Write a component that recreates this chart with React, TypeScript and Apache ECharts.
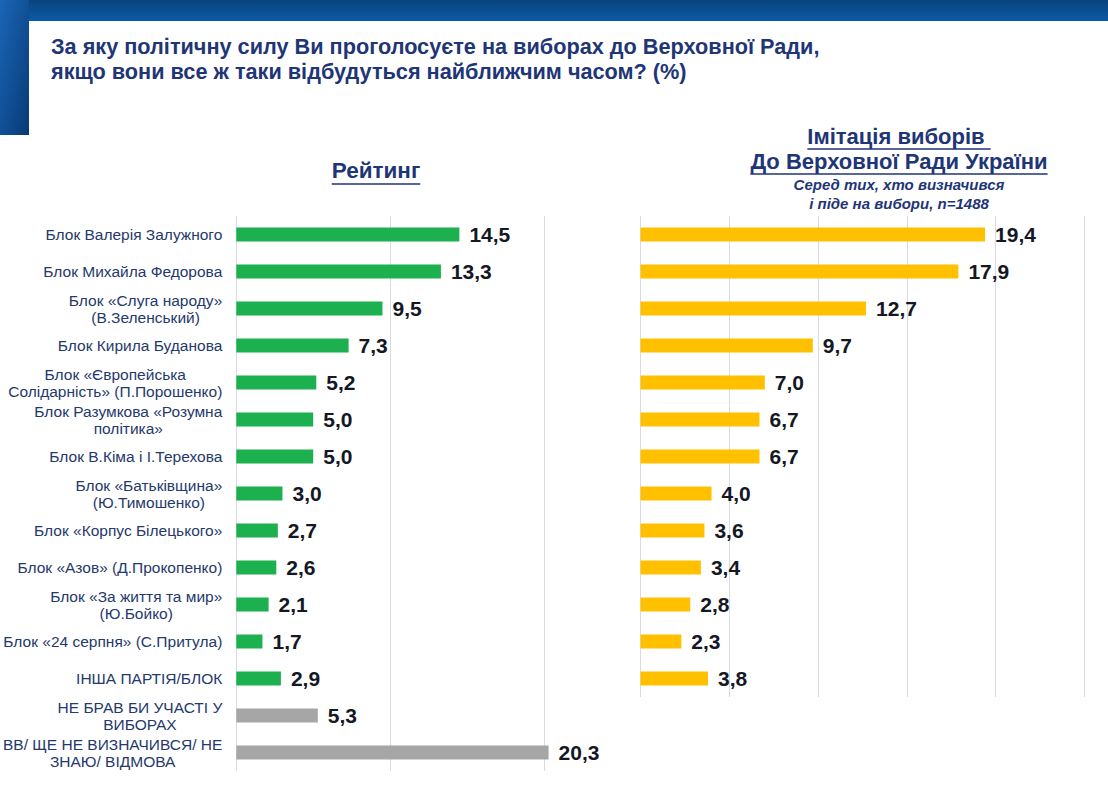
import React, { useEffect, useRef } from "react";
import * as echarts from "echarts";

// --- data ---
const categories = [
  "Блок Валерія Залужного",
  "Блок Михайла Федорова",
  "Блок «Слуга народу»\n(В.Зеленський)",
  "Блок Кирила Буданова",
  "Блок «Європейська\nСолідарність» (П.Порошенко)",
  "Блок Разумкова «Розумна\nполітика»",
  "Блок В.Кіма і І.Терехова",
  "Блок «Батьківщина»\n(Ю.Тимошенко)",
  "Блок «Корпус Білецького»",
  "Блок «Азов» (Д.Прокопенко)",
  "Блок «За життя та мир»\n(Ю.Бойко)",
  "Блок «24 серпня» (С.Притула)",
  "ІНША ПАРТІЯ/БЛОК",
  "НЕ БРАВ БИ УЧАСТІ У\nВИБОРАХ",
  "ВВ/ ЩЕ НЕ ВИЗНАЧИВСЯ/ НЕ\nЗНАЮ/ ВІДМОВА",
];
const ratingValues = [14.5, 13.3, 9.5, 7.3, 5.2, 5.0, 5.0, 3.0, 2.7, 2.6, 2.1, 1.7, 2.9, 5.3, 20.3];
const ratingKinds = [
  "party", "party", "party", "party", "party", "party", "party",
  "party", "party", "party", "party", "party", "party", "other", "other",
];
const simulationCategories = categories.slice(0, 13);
const simulationValues = [19.4, 17.9, 12.7, 9.7, 7.0, 6.7, 6.7, 4.0, 3.6, 3.4, 2.8, 2.3, 3.8];

const titleLines = [
  "За яку політичну силу Ви проголосуєте на виборах до Верховної Ради,",
  "якщо вони все ж таки відбудуться найближчим часом? (%)",
];
const leftHeading = "Рейтинг";
const rightHeading = ["Імітація виборів ", "До Верховної Ради України"];
const rightNote = ["Серед тих, хто визначився", "і піде на вибори, n=1488"];

const FONT = "Arial, 'Liberation Sans', sans-serif";
const NAVY = "#1f3676";
const LABEL = "#25396b";
const VALUE = "#141824";
const GREEN = "#1db04e";
const GRAY = "#a6a6a6";
const YELLOW = "#ffc000";
const GRID = "#d9dbe4";

const fmt = (v: number) => v.toFixed(1).replace(".", ",");

function textWidth(text: string, font: string) {
  const ctx = document.createElement("canvas").getContext("2d");
  if (!ctx) return text.length * 10;
  ctx.font = font;
  return ctx.measureText(text).width;
}

// underlined, centred heading line
function underlined(text: string, cx: number, baseline: number, size: number) {
  const w = textWidth(text, `bold ${size}px ${FONT}`);
  return [
    {
      type: "text",
      x: cx,
      y: baseline,
      style: {
        text,
        fontSize: size,
        fontWeight: "bold",
        fontFamily: FONT,
        fill: NAVY,
        align: "center",
        verticalAlign: "bottom",
      },
    },
    {
      type: "line",
      shape: { x1: cx - w / 2, y1: baseline + 2, x2: cx + w / 2, y2: baseline + 2 },
      style: { stroke: NAVY, lineWidth: 1.6 },
    },
  ];
}

const App: React.FC = () => {
  const chartRef = useRef<HTMLDivElement>(null);

  useEffect(() => {
    document.body.style.margin = "0";
    if (!chartRef.current) return;
    const chart = echarts.init(chartRef.current, undefined, { renderer: "svg" });

    const valueLabel = {
      show: true,
      position: "right",
      distance: 10,
      formatter: (p: any) => fmt(p.value),
      fontSize: 21,
      fontWeight: "bold",
      fontFamily: FONT,
      color: VALUE,
    };

    chart.setOption({
      animation: false,
      backgroundColor: "#ffffff",
      grid: [
        { left: 236, top: 216, width: 308, height: 555 },
        { left: 640.5, top: 216, width: 444, height: 481 },
      ],
      xAxis: [
        {
          type: "value",
          gridIndex: 0,
          min: 0,
          max: 20,
          interval: 10,
          axisLabel: { show: false },
          axisLine: { show: false },
          axisTick: { show: false },
          splitLine: { lineStyle: { color: GRID, width: 1 } },
        },
        {
          type: "value",
          gridIndex: 1,
          min: 0,
          max: 25,
          interval: 5,
          axisLabel: { show: false },
          axisLine: { show: false },
          axisTick: { show: false },
          splitLine: { lineStyle: { color: GRID, width: 1 } },
        },
      ],
      yAxis: [
        {
          type: "category",
          gridIndex: 0,
          data: categories,
          inverse: true,
          axisLine: { show: false },
          axisTick: { show: false },
          axisLabel: {
            margin: 14,
            formatter: (v: string) =>
              v
                .split("\n")
                .map((l) => `{c|${l}}`)
                .join("\n"),
            rich: {
              c: {
                align: "center",
                fontSize: 15.5,
                lineHeight: 17,
                fontFamily: FONT,
                color: LABEL,
              },
            },
          },
        },
        {
          type: "category",
          gridIndex: 1,
          data: simulationCategories,
          inverse: true,
          axisLine: { show: false },
          axisTick: { show: false },
          axisLabel: { show: false },
        },
      ],
      series: [
        {
          name: "Рейтинг",
          type: "bar",
          xAxisIndex: 0,
          yAxisIndex: 0,
          barWidth: 14,
          clip: false,
          data: ratingValues.map((v, i) => ({
            value: v,
            itemStyle: { color: ratingKinds[i] === "party" ? GREEN : GRAY },
          })),
          label: valueLabel,
        },
        {
          name: "Імітація виборів",
          type: "bar",
          xAxisIndex: 1,
          yAxisIndex: 1,
          barWidth: 14,
          data: simulationValues,
          itemStyle: { color: YELLOW },
          label: valueLabel,
        },
      ],
      graphic: [
        {
          type: "rect",
          shape: { x: 0, y: 0, width: 1108, height: 21 },
          style: {
            fill: new echarts.graphic.LinearGradient(0, 0, 0, 1, [
              { offset: 0, color: "#0a447f" },
              { offset: 1, color: "#0c5aa6" },
            ]),
          },
        },
        {
          type: "rect",
          shape: { x: 0, y: 0, width: 29, height: 135 },
          style: {
            fill: new echarts.graphic.LinearGradient(0, 0, 1, 1, [
              { offset: 0, color: "#1a66b8" },
              { offset: 1, color: "#083a74" },
            ]),
          },
        },
        ...titleLines.map((t, i) => ({
          type: "text",
          x: 51,
          y: 57 + i * 25,
          style: {
            text: t,
            fontSize: 21.7,
            fontWeight: "bold",
            fontFamily: FONT,
            fill: NAVY,
            align: "left",
            verticalAlign: "bottom",
          },
        })),
        ...underlined(leftHeading, 376, 182, 22.5),
        ...underlined(rightHeading[0], 899, 147, 22),
        ...underlined(rightHeading[1], 899, 172, 22),
        ...rightNote.map((t, i) => ({
          type: "text",
          x: 899,
          y: 184 + i * 19,
          style: {
            text: t,
            fontSize: 15,
            fontWeight: "bold",
            fontStyle: "italic",
            fontFamily: FONT,
            fill: NAVY,
            align: "center",
            verticalAlign: "middle",
          },
        })),
      ],
    });

    return () => {
      chart.dispose();
    };
  }, []);

  return <div ref={chartRef} style={{ width: 1108, height: 794 }} />;
};

export default App;
